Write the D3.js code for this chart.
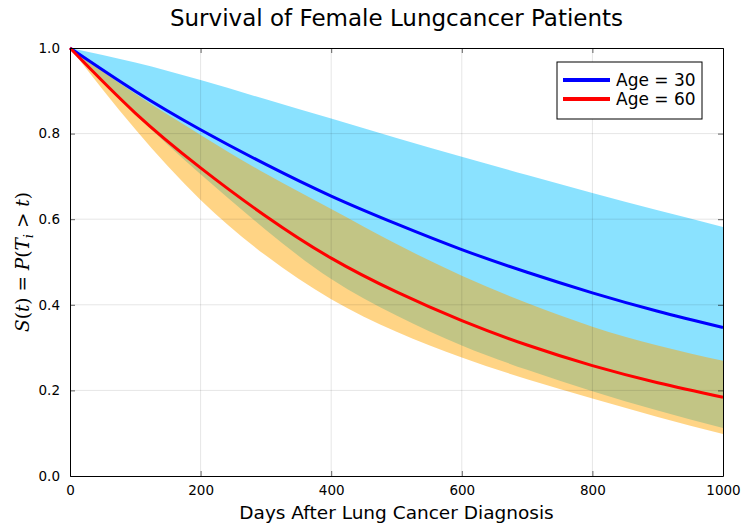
<!DOCTYPE html>
<meta charset="utf-8" />
<script src="https://d3js.org/d3.v7.min.js"></script>
<style>
  body { margin: 0; background: #fff; }
  text { font-family: "DejaVu Sans", sans-serif; }
</style>
<body>
<div id="chart"></div>
<script>
  // values, every 100 days
  const days = [0, 100, 200, 300, 400, 500, 600, 700, 800, 900, 1000];
  const age30 = [1, 0.899, 0.809, 0.728, 0.654, 0.589, 0.529, 0.476, 0.428, 0.385, 0.347];
  const age30Upper = [1, 0.966, 0.925, 0.88, 0.835, 0.79, 0.746, 0.703, 0.661, 0.621, 0.582];
  const age30Lower = [1, 0.845, 0.705, 0.575, 0.46, 0.375, 0.305, 0.248, 0.198, 0.153, 0.112];
  const age60 = [1, 0.848, 0.72, 0.607, 0.509, 0.43, 0.363, 0.306, 0.258, 0.218, 0.184];
  const age60Upper = [1, 0.893, 0.797, 0.706, 0.624, 0.542, 0.468, 0.404, 0.349, 0.305, 0.269];
  const age60Lower = [1, 0.81, 0.645, 0.515, 0.413, 0.337, 0.277, 0.226, 0.181, 0.138, 0.098];
  const xTicks = [0, 200, 400, 600, 800, 1000];
  const yTicks = [0, 0.2, 0.4, 0.6, 0.8, 1.0];
  const legendLabels = ["Age = 30", "Age = 60"];

  const W = 744, H = 524;
  const margin = {top: 48, right: 21, bottom: 48, left: 70};
  const width = W - margin.left - margin.right,
        height = H - margin.top - margin.bottom;

  const svg = d3.select("#chart").append("svg")
      .attr("width", W).attr("height", H);
  const g = svg.append("g")
      .attr("transform", "translate(" + margin.left + "," + margin.top + ")");

  const x = d3.scaleLinear().domain([0, 1000]).range([0, width]);
  const y = d3.scaleLinear().domain([0, 1]).range([height, 0]);

  // ribbons (orange drawn over blue gives the olive overlap)
  const area = (lo, hi) => d3.area()
      .x((d, i) => x(days[i]))
      .y0((d, i) => y(lo[i]))
      .y1((d, i) => y(hi[i]))
      .curve(d3.curveNatural)(days);

  g.append("path").attr("d", area(age30Lower, age30Upper))
    .attr("fill", "#00bfff").attr("fill-opacity", 0.46);
  g.append("path").attr("d", area(age60Lower, age60Upper))
    .attr("fill", "#ffa500").attr("fill-opacity", 0.48);

  // grid
  g.append("g").selectAll("line").data(xTicks.slice(1, -1)).enter().append("line")
    .attr("x1", d => x(d)).attr("x2", d => x(d))
    .attr("y1", 0).attr("y2", height)
    .attr("stroke", "#000").attr("stroke-opacity", 0.1);
  g.append("g").selectAll("line").data(yTicks.slice(1, -1)).enter().append("line")
    .attr("y1", d => y(d)).attr("y2", d => y(d))
    .attr("x1", 0).attr("x2", width)
    .attr("stroke", "#000").attr("stroke-opacity", 0.1);

  // curves
  const line = vals => d3.line()
      .x((d, i) => x(days[i]))
      .y((d, i) => y(vals[i]))
      .curve(d3.curveNatural)(days);

  g.append("path").attr("d", line(age30))
    .attr("fill", "none").attr("stroke", "#0000ff").attr("stroke-width", 3);
  g.append("path").attr("d", line(age60))
    .attr("fill", "none").attr("stroke", "#ff0000").attr("stroke-width", 3);

  // axes, mirrored inward ticks
  const tickLen = 5;
  g.append("g").attr("transform", "translate(0," + height + ")")
    .call(d3.axisBottom(x).tickValues(xTicks).tickFormat(d3.format("d"))
      .tickSizeInner(-tickLen).tickSizeOuter(0).tickPadding(9));
  g.append("g")
    .call(d3.axisLeft(y).tickValues(yTicks).tickFormat(d3.format(".1f"))
      .tickSizeInner(-tickLen).tickSizeOuter(0).tickPadding(10));
  g.append("g")
    .call(d3.axisTop(x).tickValues(xTicks).tickFormat("")
      .tickSizeInner(-tickLen).tickSizeOuter(0));
  g.append("g").attr("transform", "translate(" + width + ",0)")
    .call(d3.axisRight(y).tickValues(yTicks).tickFormat("")
      .tickSizeInner(-tickLen).tickSizeOuter(0));
  g.selectAll(".domain").attr("stroke", "#000");
  g.selectAll(".tick line").attr("stroke", "#000").attr("stroke-opacity", 0.6);
  g.selectAll(".tick text").attr("font-size", 13.5).attr("fill", "#000")
    .style("font-family", "DejaVu Sans");

  // title and axis labels
  svg.append("text").attr("x", margin.left + width / 2).attr("y", 26)
    .attr("text-anchor", "middle").attr("font-size", 23)
    .text("Survival of Female Lungcancer Patients");
  svg.append("text").attr("x", margin.left + width / 2).attr("y", 519)
    .attr("text-anchor", "middle").attr("font-size", 18.5)
    .text("Days After Lung Cancer Diagnosis");

  const yl = svg.append("text")
    .attr("transform", "translate(29," + (margin.top + height / 2) + ") rotate(-90)")
    .attr("text-anchor", "middle").attr("font-size", 18.5)
    .style("font-family", "DejaVu Serif");
  const parts = [
    ["S", true], ["(", false], ["t", true], [") = ", false], ["P", true],
    ["(", false], ["T", true]
  ];
  parts.forEach(p => yl.append("tspan").attr("font-style", p[1] ? "italic" : "normal").text(p[0]));
  yl.append("tspan").attr("font-style", "italic").attr("font-size", 13)
    .attr("dy", 4).text("i");
  yl.append("tspan").attr("dy", -4).text(" > ");
  yl.append("tspan").attr("font-style", "italic").text("t");
  yl.append("tspan").text(")");

  // legend
  const lg = svg.append("g").attr("transform", "translate(557,62)");
  lg.append("rect").attr("width", 145).attr("height", 57)
    .attr("fill", "#fff").attr("stroke", "#000").attr("stroke-width", 1);
  const colors = ["#0000ff", "#ff0000"];
  legendLabels.forEach((lab, i) => {
    const yy = 18 + i * 19;
    lg.append("line").attr("x1", 6).attr("x2", 53).attr("y1", yy).attr("y2", yy)
      .attr("stroke", colors[i]).attr("stroke-width", 4);
    lg.append("text").attr("x", 59).attr("y", yy + 6).attr("font-size", 17).text(lab);
  });
</script>
</body>
